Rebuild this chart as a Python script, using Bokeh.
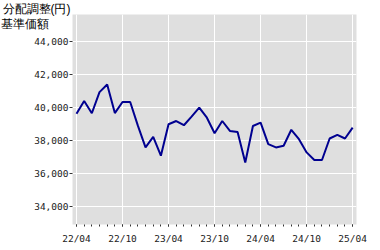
from bokeh.plotting import figure
from bokeh.models import FixedTicker, NumeralTickFormatter, Range1d, Label
from bokeh.embed import file_html
from bokeh.resources import INLINE

# month index 0 = 2022/04 ... 36 = 2025/04
months = list(range(37))
nav = [39620, 40390, 39650, 40930, 41390, 39660, 40330, 40330, 38900, 37580,
       38220, 37080, 38985, 39180, 38925, 39450, 39985, 39380, 38440, 39180,
       38580, 38520, 36670, 38880, 39080, 37780, 37580, 37680, 38650, 38080,
       37280, 36820, 36820, 38120, 38340, 38120, 38780]
x_tick_pos = [0, 6, 12, 18, 24, 30, 36]
x_tick_labels = ["22/04", "22/10", "23/04", "23/10", "24/04", "24/10", "25/04"]
y_ticks = [34000, 36000, 38000, 40000, 42000, 44000]
title_line1 = "分配調整(円)"
title_line2 = ["基準", "価額"]

p = figure(width=380, height=250, output_backend="svg", toolbar_location=None,
           x_range=Range1d(-0.52, 36.5), y_range=Range1d(32916, 45627),
           min_border_left=72, min_border_right=23, min_border_top=13,
           min_border_bottom=26)
p.background_fill_color = "#dfdfdf"
p.border_fill_color = "white"
p.outline_line_color = None

p.line(months, nav, line_color="#000090", line_width=2)

p.xaxis.ticker = FixedTicker(ticks=x_tick_pos, minor_ticks=months)
p.xaxis.major_label_overrides = {t: l for t, l in zip(x_tick_pos, x_tick_labels)}
p.yaxis.ticker = FixedTicker(ticks=y_ticks)
p.yaxis.formatter = NumeralTickFormatter(format="0,0")

for ax in (p.xaxis[0], p.yaxis[0]):
    ax.axis_line_color = None
    ax.major_label_text_font = "DejaVu Sans Mono"
    ax.major_label_text_font_size = "9.5px"
    ax.major_label_text_color = "#222222"
p.xaxis.major_tick_in = 0
p.xaxis.major_tick_out = 2
p.xaxis.minor_tick_in = 0
p.xaxis.minor_tick_out = 2
p.xaxis.major_tick_line_color = "#333333"
p.xaxis.minor_tick_line_color = "#333333"
p.xaxis.major_label_standoff = 6
p.yaxis.major_tick_in = 0
p.yaxis.major_tick_out = 3
p.yaxis.major_tick_line_color = "#333333"
p.yaxis.minor_tick_line_color = None
p.yaxis.major_label_standoff = 1

p.xgrid.grid_line_color = "white"
p.ygrid.grid_line_color = "white"
p.xgrid.grid_line_width = 1
p.ygrid.grid_line_width = 1

# Title text lives in the side panels (annotations in the centre are clipped to the frame)
common = dict(x_units="screen", y_units="screen", text_font="Liberation Sans",
              text_font_size="12px", text_color="black", text_baseline="top")
p.add_layout(Label(x=-70, y=13, text=title_line1, **common), "above")
p.add_layout(Label(x=-7, y=208, text=title_line2[0], **common), "left")
p.add_layout(Label(x=-332, y=208, text=title_line2[1], **common), "right")

open("out.html", "w").write(file_html(p, INLINE))
